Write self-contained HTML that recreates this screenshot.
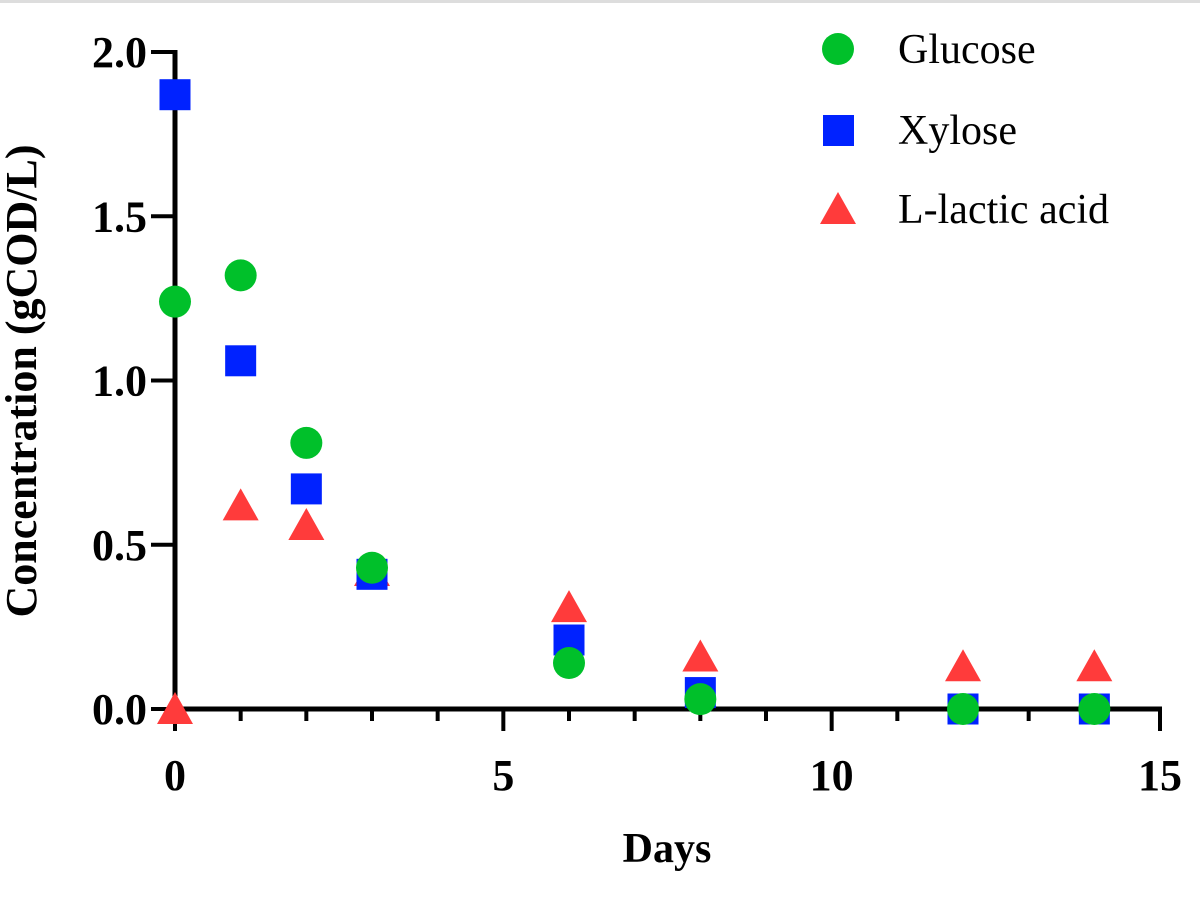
<!DOCTYPE html>
<html><head><meta charset="utf-8"><style>
body{margin:0;background:#fff}
svg text{font-family:"Liberation Serif","Times New Roman",serif;font-weight:bold;fill:#000}
svg text.lg{font-family:"Times New Roman","Liberation Serif","DejaVu Serif",serif;font-weight:400}
</style></head><body>
<svg width="1200" height="903" viewBox="0 0 1200 903">
<rect x="0" y="0" width="1200" height="3" fill="#ddd"/>
<g id="axes"></g>
<g id="marks"></g>
<text x="36" y="381" font-size="44" text-anchor="middle" transform="rotate(-90 36 381)">Concentration (gCOD/L)</text>
<text x="667" y="862" font-size="42" text-anchor="middle">Days</text>
<g>
<g><circle cx="838" cy="49" r="16" fill="#00c02a"/><text class="lg" x="898" y="63" font-size="42">Glucose</text></g>
<g><rect x="823" y="115" width="31" height="31" fill="#0022ff"/><text class="lg" x="898" y="144" font-size="42">Xylose</text></g>
<g><polygon points="838,192 856,224 820,224" fill="#ff3b3b"/><text class="lg" x="898" y="223" font-size="42">L-lactic acid</text></g>
</g>
</svg>
<script>
const days = [0,1,2,3,6,8,12,14];
const glucose = [1.24,1.32,0.81,0.43,0.14,0.03,0.0,0.0];
const xylose = [1.87,1.06,0.67,0.41,0.21,0.05,0.0,0.0];
const lactic = [0.0,0.62,0.56,0.42,0.31,0.16,0.13,0.13];
const xTicks = [0,5,10,15];
const yTicks = ["0.0","0.5","1.0","1.5","2.0"];
const NS="http://www.w3.org/2000/svg";
const X0=175,X1=1160,Y0=709,Y1=52;
const xs=v=>X0+(v/15)*(X1-X0);
const ys=v=>Y0-(v/2)*(Y0-Y1);
const axes=document.getElementById('axes'),marks=document.getElementById('marks');
function mk(t,a,p){const e=document.createElementNS(NS,t);for(const k in a)e.setAttribute(k,a[k]);p.appendChild(e);return e;}
let l=mk('line',{x1:X0,y1:Y0,x2:X1+2,y2:Y0,stroke:'#000','stroke-width':5},axes);


l=mk('line',{x1:X0,y1:Y1-2,x2:X0,y2:Y0+2,stroke:'#000','stroke-width':5},axes);


for(let i=0;i<=15;i++){const maj=i%5==0;const t=mk('line',{x1:xs(i),y1:Y0,x2:xs(i),y2:Y0+(maj?22:12),stroke:'#000','stroke-width':4},axes);

}
xTicks.forEach(v=>{const t=mk('text',{x:xs(v),y:790,'font-size':44,'text-anchor':'middle'},axes);t.textContent=v;

});
yTicks.forEach(s=>{const v=parseFloat(s);const t=mk('line',{x1:X0-24,y1:ys(v),x2:X0,y2:ys(v),stroke:'#000','stroke-width':4},axes);


const tx=mk('text',{x:X0-28,y:ys(v)+15,'font-size':44,'text-anchor':'end'},axes);tx.textContent=s;

});
days.forEach((d,i)=>{const x=xs(d),y=ys(lactic[i]);
const p=mk('polygon',{points:`${x},${y-17} ${x+18},${y+15} ${x-18},${y+15}`,fill:'#ff3b3b'},marks);

});
days.forEach((d,i)=>{const x=xs(d),y=ys(xylose[i]);
const r=mk('rect',{x:x-15.5,y:y-15.5,width:31,height:31,fill:'#0022ff'},marks);

});
days.forEach((d,i)=>{const c=mk('circle',{cx:xs(d),cy:ys(glucose[i]),r:16,fill:'#00c02a'},marks);

});
</script>
</body></html>
